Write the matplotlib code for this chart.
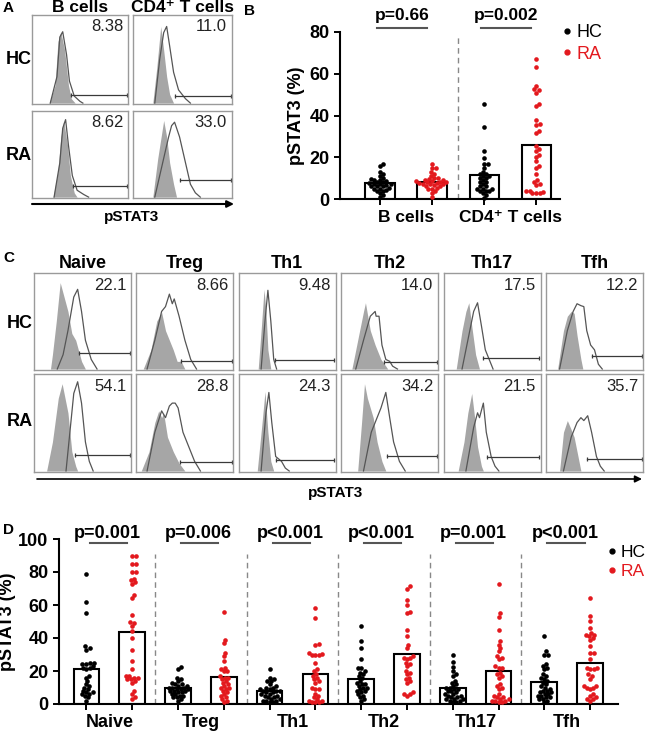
import numpy as np
import matplotlib
matplotlib.use('Agg')
import matplotlib.pyplot as plt
from matplotlib.lines import Line2D
from matplotlib import transforms

plt.rcParams['font.family'] = ['Liberation Sans', 'DejaVu Sans']

W, H = 649, 734
RED = '#e3191e'

# ---- panel A : flow histograms (x = channel %, y = % of max) ----
a_cols = ['B cells', 'CD4\u207a T cells']
a_hc_fill = [([18, 24, 27, 30, 34, 38, 41, 45], [0, 20, 70, 81, 60, 20, 5, 0]),
             ([20, 24, 28, 31, 34, 37, 41], [0, 40, 87, 60, 30, 10, 0])]
a_hc_open = [([19, 26, 29, 32, 36, 39, 44, 50, 53], [0, 30, 75, 81, 55, 25, 8, 2, 0]),
             ([22, 27, 31, 34, 37, 41, 46, 53, 58], [0, 50, 80, 87, 65, 35, 15, 5, 0])]
a_ra_fill = [([22, 27, 30, 33, 37, 40, 44, 47], [0, 30, 70, 89, 60, 25, 5, 0]),
             ([20, 25, 31, 34, 37, 41, 44], [0, 45, 89, 70, 40, 15, 0])]
a_ra_open = [([23, 29, 32, 35, 38, 42, 47, 54, 59], [0, 40, 80, 90, 60, 25, 8, 3, 0]),
             ([22, 31, 36, 39, 42, 47, 53, 58, 63, 68], [0, 45, 70, 83, 87, 70, 40, 15, 5, 0])]
a_hc_gate = [(41, 9), (42, 8)]
a_ra_gate = [(43, 13), (47, 20)]
a_hc_pct = ['8.38', '11.0']
a_ra_pct = ['8.62', '33.0']

# ---- panel B : pSTAT3 % per donor ----
b_hc_bcell = [17, 16, 13, 12, 11, 10, 9.5, 9, 9, 8.5, 8, 8, 7.5, 7, 7, 7, 6.5, 6, 6, 6,
              5.5, 5, 5, 4.5, 4, 4, 3, 2, 1]
b_ra_bcell = [17, 15, 15, 13, 12, 11, 10, 10, 9.5, 9, 9, 8.5, 8.5, 8, 8, 8, 7.5, 7.5, 7, 7,
              7, 6.5, 6, 6, 5.5, 5, 5, 4, 3, 1]
b_hc_cd4 = [45.5, 34.5, 23, 19.5, 17, 17, 15, 13, 12, 12, 11, 11, 10, 10, 9, 8, 8, 7, 6, 6,
            5, 5, 5, 4, 4, 4, 3, 2, 0.5]
b_ra_cd4 = [67, 63, 54, 52.5, 52, 51, 45.5, 44.5, 38, 36, 35.5, 32.5, 31.5, 25.5, 24, 23,
            21, 20, 18, 16, 15, 12, 9, 8, 7, 6.5, 4, 3, 3, 3, 3.5, 4]
b_pvals = ['p=0.66', 'p=0.002']

# ---- panel C : T cell subsets ----
c_cols = ['Naive', 'Treg', 'Th1', 'Th2', 'Th17', 'Tfh']
c_hc_fill = [([17, 19, 23, 26, 27, 31, 35, 39, 43, 49, 53], [0, 15, 50, 80, 90, 75, 60, 37, 30, 8, 0]),
             ([7, 15, 21, 26, 30, 34, 38, 42, 46, 50], [0, 20, 50, 59, 40, 30, 20, 8, 8, 0]),
             ([20, 23, 26, 28, 30, 33], [0, 40, 83, 60, 20, 0]),
             ([11, 17, 23, 25, 30, 35, 41, 46, 48], [0, 30, 60, 69, 40, 25, 10, 3, 0]),
             ([13, 19, 23, 26, 29, 33, 37], [0, 40, 60, 69, 45, 15, 0]),
             ([12, 18, 22, 26, 29, 32, 36, 38], [0, 40, 55, 60, 58, 35, 10, 0])]
c_hc_open = [([24, 30, 35, 41, 45, 49, 53, 59, 65], [0, 15, 40, 75, 83, 60, 30, 10, 0]),
             ([11, 19, 26, 30, 34, 37, 39, 44, 50, 56, 62], [0, 30, 60, 65, 78, 68, 73, 55, 30, 10, 0]),
             ([23, 27, 30, 33, 36, 39], [0, 50, 82, 50, 10, 0]),
             ([15, 23, 30, 35, 36, 39, 42, 46, 50, 53, 58], [0, 30, 55, 60, 55, 55, 25, 10, 8, 3, 0]),
             ([19, 27, 31, 35, 39, 43, 47, 51], [0, 40, 60, 69, 45, 20, 10, 0]),
             ([14, 22, 28, 32, 36, 39, 42, 46, 50, 54, 58], [0, 40, 60, 68, 66, 65, 40, 25, 20, 5, 0])]
c_ra_fill = [([13, 19, 25, 29, 35, 39, 43, 45], [0, 30, 75, 90, 60, 20, 5, 0]),
             ([5, 13, 19, 23, 26, 28, 32, 38, 44, 50], [0, 20, 50, 62, 55, 60, 35, 20, 8, 0]),
             ([19, 24, 27, 30, 33, 36], [0, 50, 82, 40, 10, 0]),
             ([17, 21, 24, 27, 33, 37, 42, 46], [0, 50, 90, 75, 55, 30, 10, 0]),
             ([15, 21, 25, 29, 32, 35, 39, 41], [0, 30, 60, 80, 55, 25, 5, 0]),
             ([14, 18, 22, 25, 29, 33, 36], [0, 40, 52, 45, 35, 15, 0])]
c_ra_open = [([33, 37, 41, 45, 49, 53, 57, 61], [0, 40, 80, 92, 70, 30, 10, 0]),
             ([11, 19, 26, 30, 34, 37, 40, 43, 48, 54, 60, 66], [0, 40, 62, 55, 67, 70, 70, 65, 40, 25, 10, 0]),
             ([23, 28, 31, 34, 38, 44, 48, 52], [0, 60, 81, 50, 15, 10, 3, 0]),
             ([23, 31, 37, 41, 46, 50, 54, 60, 66], [0, 40, 55, 65, 81, 55, 30, 10, 0]),
             ([23, 31, 35, 37, 41, 44, 49, 53, 57], [0, 45, 60, 55, 70, 40, 15, 5, 0]),
             ([18, 26, 32, 36, 39, 43, 47, 52, 56, 60], [0, 35, 50, 55, 52, 57, 40, 15, 5, 0])]
c_hc_gate = [(46, 17), (46, 8), (37, 9), (44, 7), (41, 11), (47, 14)]
c_ra_gate = [(42, 17), (45, 9), (38, 11), (47, 15), (45, 14), (42, 12)]
c_hc_pct = ['22.1', '8.66', '9.48', '14.0', '17.5', '12.2']
c_ra_pct = ['54.1', '28.8', '24.3', '34.2', '21.5', '35.7']

# ---- panel D : pSTAT3 % per subset ----
naive_hc = [79, 62, 55, 35, 34, 33, 25, 25, 24, 24, 23, 22, 22, 21, 17, 16, 14, 12, 11, 10,
            9, 8, 7, 7, 6, 6, 5, 4, 2]
naive_ra = [90, 90, 85, 85, 80, 80, 76, 75, 74, 73, 66, 64, 54, 50, 49, 47, 44, 40, 33, 26,
            21, 17, 17, 16, 16, 15, 15, 14, 13, 8, 6, 4, 3]
treg_hc = [22.5, 21, 16, 15, 14, 13, 12, 12, 11, 11, 10, 10, 10, 9, 9, 9, 8, 8, 8, 7, 7, 6,
           6, 5, 5, 4, 4, 3, 2]
treg_ra = [55.5, 39, 37, 31, 29, 26, 22, 21, 20, 20, 17, 16, 16, 15, 14, 13, 12, 11, 10, 10,
           9, 8, 7, 6, 5, 4, 3, 2, 1]
th1_hc = [21, 16, 15, 14, 14, 12, 11, 10, 10, 9, 9, 8, 8, 8, 7, 7, 6, 6, 5, 5, 4, 4, 3, 2, 2,
          1, 3, 2, 1]
th1_ra = [58, 52, 36.5, 36, 31, 30.5, 30, 30, 30, 25, 21, 20, 18, 17, 16, 15, 14, 13, 10, 9,
          9, 6, 5, 4, 3, 2, 2, 1, 1, 1]
th2_hc = [47.5, 38, 34, 27, 22, 22, 20, 19, 18, 17, 16, 14, 13, 12, 12, 11, 10, 10, 9, 8, 8,
          7, 6, 5, 4, 3, 2]
th2_ra = [71.5, 70, 63, 60, 56, 55, 45, 41, 36, 34, 29, 28, 28, 27, 25, 24, 23, 20, 19, 18,
          16, 15, 14, 13, 7, 6, 6, 5]
th17_hc = [30, 25.5, 22.5, 20, 18, 17, 14, 13, 12, 11, 10, 10, 9, 9, 8, 8, 7, 6, 6, 5, 5, 4,
           4, 3, 3, 2, 1, 2, 1, 3]
th17_ra = [72.5, 55, 53, 45, 38, 36, 34, 32, 29, 28, 27, 23, 22, 22, 19, 18, 17, 16, 12, 11,
           10, 9, 6, 5, 4, 4, 3, 3, 2, 2, 2, 1, 1]
tfh_hc = [41.5, 32, 30, 30, 24, 23, 22, 21, 18, 17, 16, 15, 14, 13, 12, 11, 10, 9, 8, 7, 6, 5,
          4, 3, 2, 1, 8, 7, 6, 5, 4, 3]
tfh_ra = [64.5, 53.5, 50.5, 46, 43, 42, 42, 41, 40, 38.5, 35, 31, 31, 27, 22, 22, 21, 21, 18,
          17, 15, 11, 11, 10, 10, 9, 6, 5, 4, 3, 3, 2]
d_pvals = ['p=0.001', 'p=0.006', 'p<0.001', 'p<0.001', 'p=0.001', 'p<0.001']


def rect(x0, y0, x1, y1):
    return [x0 / W, 1 - y1 / H, (x1 - x0) / W, (y1 - y0) / H]


def swarm(vals, xpx, ypx, d=3.6):
    # simple beeswarm offsets (in x data units)
    vals = np.asarray(vals, float)
    placed = []
    offs = np.zeros(len(vals))
    for i in np.argsort(vals):
        y = vals[i] * ypx
        cands = [0.0]
        for px, py in placed:
            dy = y - py
            if abs(dy) < d:
                dx = np.sqrt(d * d - dy * dy)
                cands += [px + dx, px - dx]
        for c in sorted(cands, key=abs):
            if all((c - px) ** 2 + (y - py) ** 2 >= d * d - 1e-6 for px, py in placed):
                break
        placed.append((c, y))
        offs[i] = c / xpx
    return offs


def histo(r, fill, line, gate, pct):
    ax = fig.add_axes(r)
    ax.fill_between(fill[0], fill[1], color='#a6a6a6', lw=0)
    ax.plot(line[0], line[1], color='#555555', lw=0.9)
    ax.plot([gate[0], 98.5], [gate[1], gate[1]], color='#3a3a3a', lw=0.9,
            marker='|', ms=3.5, mew=0.9)
    ax.text(95, 95, pct, ha='right', va='top', fontsize=12, color='#222222')
    ax.set_xlim(0, 100)
    ax.set_ylim(-1, 100)
    ax.set_xticks([])
    ax.set_yticks([])
    for s in ax.spines.values():
        s.set_color('#9a9a9a')
        s.set_linewidth(1)
    return ax


def dots(ax, groups, colors, xpx, ypx):
    for i, (vals, c) in enumerate(zip(groups, colors)):
        v = np.asarray(vals, float)
        ax.bar(i, v.mean(), width=0.56, facecolor='white', edgecolor='black', lw=1.5, zorder=1)
        ax.scatter(i + swarm(v, xpx, ypx), v, s=11, color=c, lw=0, zorder=3, clip_on=False)


def style(ax):
    for s in ['top', 'right']:
        ax.spines[s].set_visible(False)
    for s in ['left', 'bottom']:
        ax.spines[s].set_linewidth(1.5)
    ax.tick_params(direction='out', length=4, width=1.4)
    ax.tick_params(axis='x', labelbottom=False)
    for t in ax.get_yticklabels():
        t.set_fontweight('bold')
        t.set_fontsize(13)


fig = plt.figure(figsize=(W / 100, H / 100), dpi=100)
ov = fig.add_axes([0, 0, 1, 1])
ov.set_xlim(0, W)
ov.set_ylim(H, 0)
ov.axis('off')

# panel A
a_x = [(32, 128), (133, 232)]
a_y = [(15, 104), (111, 198)]
for j in range(2):
    histo(rect(a_x[j][0], a_y[0][0], a_x[j][1], a_y[0][1]), a_hc_fill[j], a_hc_open[j], a_hc_gate[j], a_hc_pct[j])
    histo(rect(a_x[j][0], a_y[1][0], a_x[j][1], a_y[1][1]), a_ra_fill[j], a_ra_open[j], a_ra_gate[j], a_ra_pct[j])
    ov.text((a_x[j][0] + a_x[j][1]) / 2, 8, a_cols[j], ha='center', va='center', fontsize=12.5, fontweight='bold')
ov.text(19, 60, 'HC', ha='center', va='center', fontsize=13, fontweight='bold')
ov.text(19, 155, 'RA', ha='center', va='center', fontsize=13, fontweight='bold')
ov.annotate('', xy=(234, 204), xytext=(32, 204),
            arrowprops=dict(arrowstyle='-|>', color='black', lw=1.5, mutation_scale=10, shrinkA=0, shrinkB=0))
ov.text(132, 217, 'pSTAT3', ha='center', va='center', fontsize=11, fontweight='bold')

# panel B
axb = fig.add_axes(rect(340, 32, 560, 199))
dots(axb, [b_hc_bcell, b_ra_bcell, b_hc_cd4, b_ra_cd4], ['black', RED, 'black', RED], 52, 2.09)
axb.set_xlim(-0.77, 3.46)
axb.set_ylim(0, 80)
axb.set_yticks([0, 20, 40, 60, 80])
axb.set_xticks([0, 1, 2, 3])
axb.axvline(1.5, ymax=0.975, color='#888888', ls=(0, (4, 3)), lw=1)
style(axb)
axb.set_ylabel('pSTAT3 (%)', fontsize=13, fontweight='bold', labelpad=3)
tb = transforms.blended_transform_factory(axb.transData, axb.transAxes)
for k, lab in enumerate(['B cells', 'CD4\u207a T cells']):
    axb.text(2 * k + 0.5, -0.11, lab, transform=tb, ha='center', va='center', fontsize=12.5, fontweight='bold')
    axb.text(2 * k + 0.42, 88, b_pvals[k], ha='center', va='center', fontsize=12.5, fontweight='bold', clip_on=False)
    axb.plot([2 * k - 0.06, 2 * k + 0.9], [81.8, 81.8], color='#555555', lw=1.5, clip_on=False)
hb = [Line2D([], [], marker='o', ls='', color='black', ms=3.5),
      Line2D([], [], marker='o', ls='', color=RED, ms=3.5)]
axb.legend(hb, ['HC', 'RA'], loc='upper left', bbox_to_anchor=(562 / W, 1 - 24 / H),
           bbox_transform=fig.transFigure, frameon=False, handletextpad=0.2, labelspacing=0.25,
           fontsize=13, labelcolor='markerfacecolor', handlelength=0.6, borderpad=0, borderaxespad=0)

# panel C
for j in range(6):
    x0 = 34 + j * 102.4
    histo(rect(x0, 273, x0 + 97, 370), c_hc_fill[j], c_hc_open[j], c_hc_gate[j], c_hc_pct[j])
    histo(rect(x0, 374, x0 + 97, 472), c_ra_fill[j], c_ra_open[j], c_ra_gate[j], c_ra_pct[j])
    ov.text(x0 + 48.5, 263, c_cols[j], ha='center', va='center', fontsize=13, fontweight='bold')
ov.text(20, 324, 'HC', ha='center', va='center', fontsize=13, fontweight='bold')
ov.text(20, 421, 'RA', ha='center', va='center', fontsize=13, fontweight='bold')
ov.annotate('', xy=(642, 479), xytext=(37, 479),
            arrowprops=dict(arrowstyle='-|>', color='black', lw=1.2, mutation_scale=10, shrinkA=0, shrinkB=0))
ov.text(336, 493, 'pSTAT3', ha='center', va='center', fontsize=11, fontweight='bold')

# panel D
axd = fig.add_axes(rect(59, 539, 618, 704))
d_groups = [naive_hc, naive_ra, treg_hc, treg_ra, th1_hc, th1_ra,
            th2_hc, th2_ra, th17_hc, th17_ra, tfh_hc, tfh_ra]
dots(axd, d_groups, ['black', RED] * 6, 45.75, 1.65)
axd.set_xlim(-0.6, 11.61)
axd.set_ylim(0, 100)
axd.set_yticks([0, 20, 40, 60, 80, 100])
axd.set_xticks(range(12))
for k in range(5):
    axd.axvline(2 * k + 1.5, ymax=0.91, color='#888888', ls=(0, (4, 3)), lw=1)
style(axd)
axd.set_ylabel('pSTAT3 (%)', fontsize=13, fontweight='bold', labelpad=2)
td = transforms.blended_transform_factory(axd.transData, axd.transAxes)
for k, lab in enumerate(c_cols):
    axd.text(2 * k + 0.5, -0.11, lab, transform=td, ha='center', va='center', fontsize=13, fontweight='bold')
    axd.text(2 * k + 0.45, 103.4, d_pvals[k], ha='center', va='center', fontsize=13, fontweight='bold', clip_on=False)
    axd.plot([2 * k + 0.07, 2 * k + 0.88], [97.8, 97.8], color='#555555', lw=1.5, clip_on=False)
axd.legend(hb, ['HC', 'RA'], loc='upper left', bbox_to_anchor=(607 / W, 1 - 545 / H),
           bbox_transform=fig.transFigure, frameon=False, handletextpad=0.2, labelspacing=0.2,
           fontsize=12.5, labelcolor='markerfacecolor', handlelength=0.6, borderpad=0, borderaxespad=0)

for lab, x, y in [('A', 3, 8), ('B', 244, 11), ('C', 3, 258), ('D', 3, 530)]:
    ov.text(x, y, lab, ha='left', va='center', fontsize=11, fontweight='bold')

fig.savefig('out.png', dpi=100)
